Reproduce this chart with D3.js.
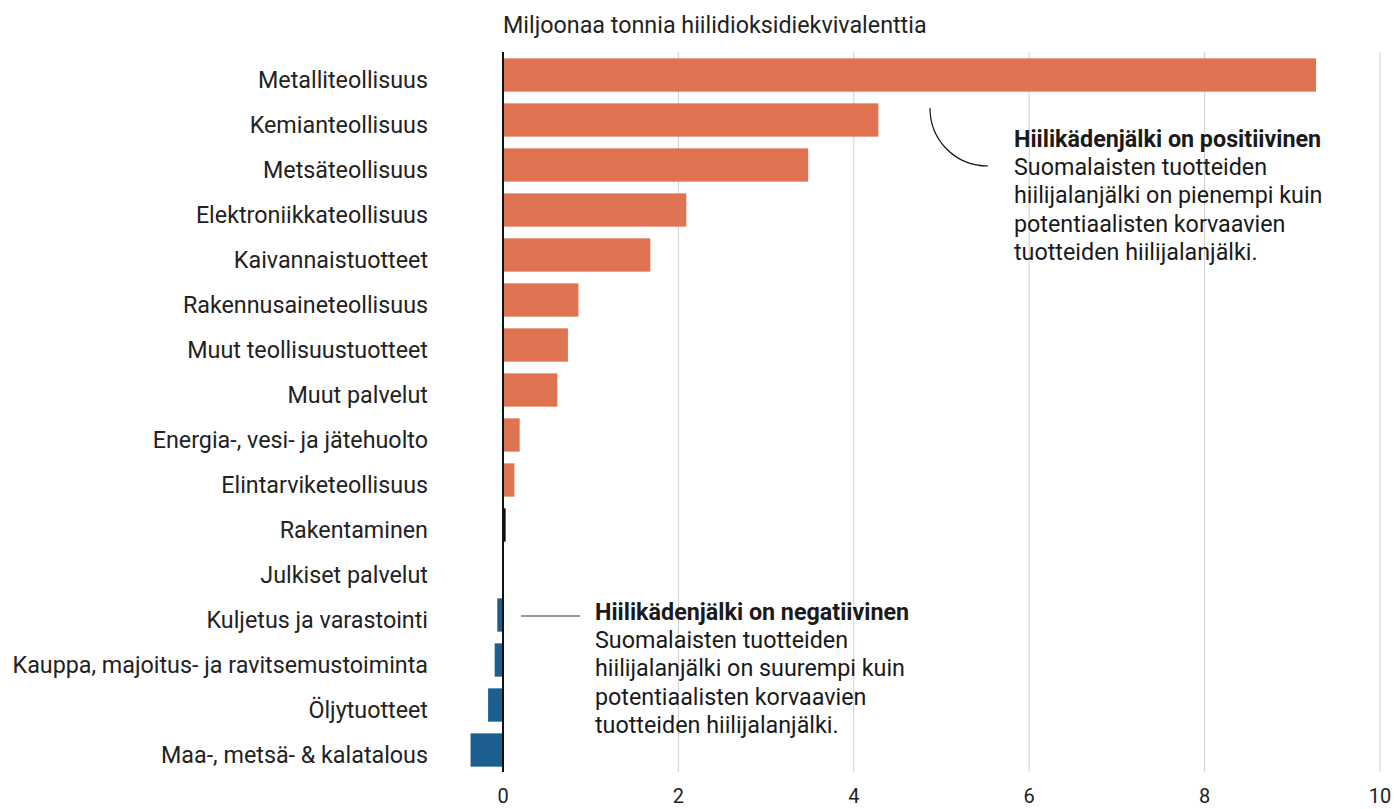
<!DOCTYPE html>
<html><head><meta charset="utf-8">
<script src="https://cdn.jsdelivr.net/npm/d3@7"></script>
<style>body{margin:0;background:#fff}svg{display:block;font-family:Roboto,"Noto Sans",sans-serif}</style>
</head><body>
<svg id="c" width="1394" height="809"></svg>
<script>
const categories = ["Metalliteollisuus","Kemianteollisuus","Metsäteollisuus","Elektroniikkateollisuus","Kaivannaistuotteet","Rakennusaineteollisuus","Muut teollisuustuotteet","Muut palvelut","Energia-, vesi- ja jätehuolto","Elintarviketeollisuus","Rakentaminen","Julkiset palvelut","Kuljetus ja varastointi","Kauppa, majoitus- ja ravitsemustoiminta","Öljytuotteet","Maa-, metsä- & kalatalous"];
const values = [9.27,4.28,3.48,2.09,1.68,0.86,0.74,0.62,0.19,0.13,0.03,0,-0.065,-0.095,-0.17,-0.37];
const ticks = [0,2,4,6,8,10];
const title = "Miljoonaa tonnia hiilidioksidiekvivalenttia";
const posNote = ["Hiilikädenjälki on positiivinen","Suomalaisten tuotteiden","hiilijalanjälki on pienempi kuin","potentiaalisten korvaavien","tuotteiden hiilijalanjälki."];
const negNote = ["Hiilikädenjälki on negatiivinen","Suomalaisten tuotteiden","hiilijalanjälki on suurempi kuin","potentiaalisten korvaavien","tuotteiden hiilijalanjälki."];

const svg = d3.select("#c");
const FS = 23.3;
const x = d3.scaleLinear().domain([0,10]).range([503,1380]);
const y = d3.scaleBand().domain(categories).range([52.5,772.5]).paddingInner(0.26).paddingOuter(0.13);
const gTop = 52, gBot = 772;

// gridlines
svg.append("g").selectAll("line").data(ticks.filter(t=>t!==0)).join("line")
  .attr("x1",d=>x(d)).attr("x2",d=>x(d)).attr("y1",gTop).attr("y2",gBot)
  .attr("stroke","#cfcfcf").attr("stroke-width",1);

// tick labels
svg.append("g").selectAll("text").data(ticks).join("text")
  .attr("x",d=>x(d)).attr("y",803).attr("text-anchor","middle")
  .attr("font-size",20).attr("fill","#222").text(d=>d);

// bars
const color = v => Math.abs(v) < 0.05 ? "#111" : (v>0 ? "#df7352" : "#1c5e8f");
svg.append("g").selectAll("rect").data(categories.map((c,i)=>({c,v:values[i]}))).join("rect")
  .attr("x",d=>x(Math.min(0,d.v))).attr("width",d=>Math.abs(x(d.v)-x(0)))
  .attr("y",d=>y(d.c)).attr("height",y.bandwidth())
  .attr("fill",d=>color(d.v));

// zero line
svg.append("line").attr("x1",x(0)).attr("x2",x(0)).attr("y1",gTop).attr("y2",gBot)
  .attr("stroke","#111").attr("stroke-width",2);

// category labels
svg.append("g").selectAll("text").data(categories).join("text")
  .attr("x",428).attr("y",d=>y(d)+y.bandwidth()/2+12.5)
  .attr("text-anchor","end").attr("font-size",FS).attr("fill","#222").text(d=>d);

// title
svg.append("text").attr("x",503).attr("y",33).attr("font-size",FS).attr("fill","#222").text(title);

// notes
function note(lines, x0, y0){
  const t = svg.append("text").attr("x",x0).attr("y",y0).attr("font-size",FS).attr("fill","#1a1a1a");
  lines.forEach((l,i)=>t.append("tspan").attr("x",x0).attr("dy",i===0?0:28.2)
    .attr("font-weight",i===0?"bold":"normal").text(l));
}
note(posNote, 1014, 147);
note(negNote, 595, 620);

// connector curve for positive note
svg.append("path").attr("d","M930,108 C930,140 955,166 988,166")
  .attr("fill","none").attr("stroke","#111").attr("stroke-width",1.2);
// connector line for negative note
svg.append("line").attr("x1",521).attr("x2",580).attr("y1",616).attr("y2",616)
  .attr("stroke","#333").attr("stroke-width",1.2);
</script>
</body></html>
